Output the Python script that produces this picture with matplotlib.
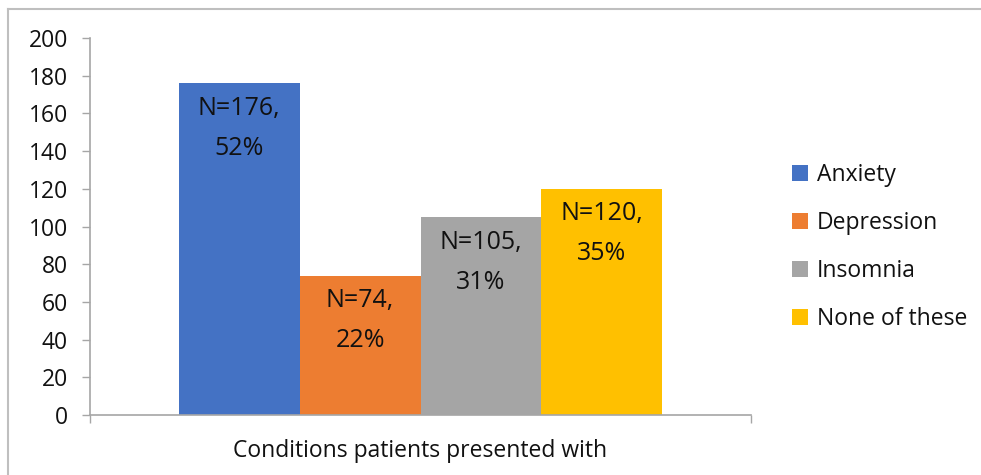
import matplotlib
matplotlib.use("Agg")
import matplotlib.pyplot as plt
from matplotlib.lines import Line2D
from matplotlib.patches import Patch

series = ["Anxiety", "Depression", "Insomnia", "None of these"]
counts = [176, 74, 105, 120]
percents = [52, 22, 31, 35]
colors = ["#4472C4", "#ED7D31", "#A5A5A5", "#FFC000"]
category_label = "Conditions patients presented with"
yticks = [0, 20, 40, 60, 80, 100, 120, 140, 160, 180, 200]

plt.rcParams['font.family'] = ['Open Sans', 'DejaVu Sans']
txt = '#111111'
axc = '#A6A6A6'

fig = plt.figure(figsize=(9.81, 4.75), dpi=100)
ax = fig.add_axes([90/981, 1-415/475, 661/981, 377/475])

w = 0.183
for i, (s, v, p, c) in enumerate(zip(series, counts, percents, colors)):
    x = (i - 1.5) * w
    ax.bar(x, v, width=w, color=c, label=s, edgecolor='none')
    ax.annotate(f"N={v},\n{p}%", xy=(x, v), xytext=(0, -9), textcoords='offset points',
                ha='center', va='top', fontsize=18, color=txt, linespacing=1.8)

ax.set_xlim(-0.5, 0.5)
ax.set_ylim(0, 200)
ax.set_yticks(yticks)
ax.set_xticks([-0.5, 0.5])
ax.set_xticklabels(['', ''])
ax.tick_params(axis='y', direction='out', length=6, width=1, color=axc, labelsize=16.5, labelcolor=txt, pad=10)
ax.tick_params(axis='x', direction='out', length=6, width=1, color=axc)
for sp in ['top', 'right']:
    ax.spines[sp].set_visible(False)
for sp in ['left', 'bottom']:
    ax.spines[sp].set_color(axc)
    ax.spines[sp].set_linewidth(1.2)
ax.set_xlabel(category_label, fontsize=16.5, color=txt, labelpad=8)

handles = [Patch(facecolor=c, edgecolor='none') for c in colors]
fig.legend(handles, series, loc='center left', bbox_to_anchor=(792/981, 1-247/475),
           frameon=False, fontsize=16.5, handlelength=0.7, handleheight=0.7,
           handletextpad=0.4, labelspacing=1.05, borderpad=0, borderaxespad=0,
           labelcolor=txt)

fig.add_artist(Line2D([7.5/981, 1], [1-9/475, 1-9/475], transform=fig.transFigure, color='#BFBFBF', lw=1.5))
fig.add_artist(Line2D([7.5/981, 7.5/981], [0, 1-9/475], transform=fig.transFigure, color='#BFBFBF', lw=1.5))

fig.savefig('out.png', dpi=100)
